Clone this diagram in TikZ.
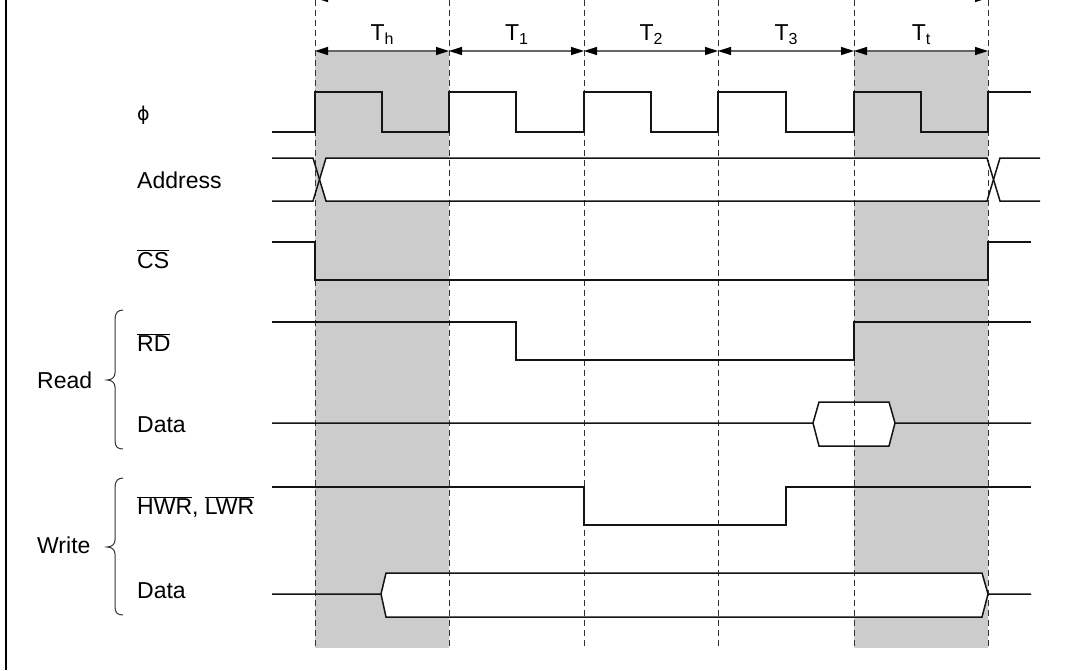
\documentclass[tikz,border=0pt]{standalone}
\usepackage{fontspec}
\setmainfont{Liberation Sans}
\newfontfamily\phifont{DejaVu Sans}
\usetikzlibrary{arrows.meta}
\definecolor{cyclegray}{HTML}{CCCCCC}
\newcommand\ovl[1]{$\overline{\mbox{#1}}$}
\newcommand\Tsub[1]{T\raisebox{-4pt}{\fontsize{16}{16}\selectfont #1}}
\begin{document}
\begin{tikzpicture}[x=1pt,y=-1pt,
  sig/.style={line width=1.5pt, black!92, line join=miter},
  gridline/.style={line width=1pt, black!80, dash pattern=on 6pt off 4pt},
  period/.style={line width=1.4pt, black!60, {Triangle[length=13pt,width=8pt,fill=black,color=black]}-{Triangle[length=13pt,width=8pt,fill=black,color=black]}},
  lbl/.style={anchor=base west, inner sep=0pt, font=\fontsize{23}{27}\selectfont},
  tl/.style={anchor=base, inner sep=0pt, font=\fontsize{23}{27}\selectfont},
  bus/.style={fill=white, draw=none},
  bracepath/.style={line width=1pt, black!80}]
\useasboundingbox (0,0) rectangle (1068,670);
\clip (0,0) rectangle (1068,670);
% period boundaries
\foreach \n/\x in {0/315,1/449,2/584,3/718,4/854,5/988}{
  \coordinate (t\n) at (\x,51);
  \coordinate (b\n) at (\x,648);
  \coordinate (top\n) at (\x,0);
  \coordinate (up\n) at (\x,-2);
}
% shaded cycles
\fill[cyclegray] (t0) rectangle (b1);
\fill[cyclegray] (t4) rectangle (b5);
% bus interiors
\fill[bus] (319.5,179.5) -- (326,158) -- (987,158) -- (993.5,179.5) -- (987,201) -- (326,201) -- cycle;
\fill[bus] (813,423) -- (819,402) -- (889,402) -- (895,423) -- (889,446) -- (819,446) -- cycle;
\fill[bus] (381,594) -- (386,573) -- (982,573) -- (988,594) -- (982,617) -- (386,617) -- cycle;
% dashed boundaries
\foreach \n in {0,...,5}{ \draw[gridline] (top\n) -- (b\n); }
% period arrows
\draw[period] (up0) -- (up5);
\foreach \a/\b in {0/1,1/2,2/3,3/4,4/5}{ \draw[period] (t\a) -- (t\b); }
% period labels
\node[tl] (lh) at (382,40) {\Tsub{h}};
\node[tl] (l1) at (516.5,40) {\Tsub{1}};
\node[tl] (l2) at (651,40) {\Tsub{2}};
\node[tl] (l3) at (786,40) {\Tsub{3}};
\node[tl] (lt) at (921,40) {\Tsub{t}};
% signal labels
\node[lbl] (nphi) at (137,120) {\phifont\fontsize{19}{20}\selectfont ϕ};
\node[lbl] (naddr) at (137,188) {Address};
\node[lbl] (ncs) at (137,268) {\ovl{CS}};
\node[lbl] (nrd) at (137,351) {\ovl{RD}};
\node[lbl] (nrdata) at (137,432) {Data};
\node[lbl] (nwr) at (137,514) {\ovl{HWR}, \ovl{LWR}};
\node[lbl] (nwdata) at (137,598) {Data};
\node[lbl] (nread) at (37,388) {Read};
\node[lbl] (nwrite) at (37,553) {Write};
% braces
\draw[bracepath] (123,310) .. controls (118,310) and (115,313) .. (115,319) -- (115,373) .. controls (115,377) and (112,380) .. (107,380) .. controls (112,380) and (115,383) .. (115,387) -- (115,441) .. controls (115,447) and (118,449) .. (123,449);
\draw[bracepath] (123,478) .. controls (118,478) and (115,481) .. (115,487) -- (115,540) .. controls (115,544) and (112,547) .. (107,547) .. controls (112,547) and (115,550) .. (115,554) -- (115,607) .. controls (115,613) and (118,615) .. (123,615);
% phi clock
\draw[sig] (272,132) -- (315,132) -- (315,92) -- (382,92) -- (382,132) -- (449,132) -- (449,92) -- (516,92) -- (516,132) -- (584,132) -- (584,92) -- (651,92) -- (651,132) -- (718,132) -- (718,92) -- (786,92) -- (786,132) -- (854,132) -- (854,92) -- (921,92) -- (921,132) -- (988,132) -- (988,92) -- (1031,92);
% address
\draw[sig] (272,158) -- (313,158) -- (326,201) -- (987,201) -- (1000,158) -- (1040,158);
\draw[sig] (272,201) -- (313,201) -- (326,158) -- (987,158) -- (1000,201) -- (1040,201);
% CS
\draw[sig] (272,242) -- (315,242) -- (315,280) -- (988,280) -- (988,242) -- (1031,242);
% RD
\draw[sig] (272,322) -- (516,322) -- (516,360) -- (854,360) -- (854,322) -- (1031,322);
% read data
\draw[sig] (272,423) -- (813,423) -- (819,402) -- (889,402) -- (895,423) -- (1031,423);
\draw[sig] (813,423) -- (819,446) -- (889,446) -- (895,423);
% HWR LWR
\draw[sig] (272,487) -- (584,487) -- (584,525) -- (786,525) -- (786,487) -- (1031,487);
% write data
\draw[sig] (272,594) -- (381,594) -- (386,573) -- (982,573) -- (988,594) -- (1031,594);
\draw[sig] (381,594) -- (386,617) -- (982,617) -- (988,594);
% frame edge
\draw[line width=2pt] (5.7,0) -- (5.7,670);
\end{tikzpicture}
\end{document}
